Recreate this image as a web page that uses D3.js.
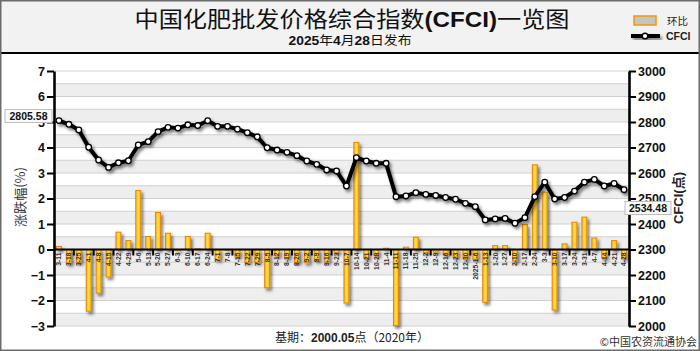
<!DOCTYPE html>
<html>
<head>
<meta charset="utf-8">
<script src="https://cdn.jsdelivr.net/npm/d3@7"></script>
<style>
  body { margin: 0; background: #fff; }
  svg { display: block; font-family: "Liberation Sans", Arial, "Noto Sans CJK SC", sans-serif; }
</style>
</head>
<body>
<svg id="chart" width="700" height="351"></svg>
<script>
const dates = ["3-11","3-18","3-25","4-1","4-8","4-15","4-22","4-29","5-6","5-13","5-20","5-27",
  "6-3","6-10","6-17","6-24","7-1","7-8","7-15","7-22","7-29","8-5","8-12","8-19","8-26",
  "9-2","9-9","9-16","9-23","10-7","10-14","10-21","10-28","11-4","11-11","11-18","11-25",
  "12-2","12-9","12-16","12-23","12-30","2025-1-6","1-13","1-20","1-27","2-10","2-17","2-24",
  "3-3","3-10","3-17","3-24","3-31","4-7","4-14","4-21","4-28"];

// 环比 (%)
const pct = [0.12,-0.55,-0.5,-2.42,-1.71,-1.08,0.68,0.35,2.31,0.51,1.45,0.64,
  -0.05,0.51,0.02,0.64,-0.4,-0.03,-0.27,-0.5,-0.5,-1.5,-0.25,-0.32,-0.5,
  -0.52,-0.43,-0.48,-0.12,-2.1,4.2,-0.35,-0.24,0.05,-2.98,0.09,0.48,
  -0.12,-0.1,-0.21,-0.3,-0.37,-0.38,-2.07,0.15,0.15,-0.45,0.98,3.32,
  2.25,-2.37,0.22,1.07,1.27,0.45,-0.33,0.35,-0.33];

// CFCI (点)
const cfci = [2805.58,2791,2769,2701,2651,2622,2640,2648,2710,2723,2762,2779,
  2776,2789,2786,2805,2783,2783,2772,2758,2742,2699,2690,2681,2668,
  2647,2634,2612,2608,2549,2660,2647,2638,2638,2507,2510,2523,
  2516,2512,2504,2497,2481,2468,2416,2420,2422,2403,2425,2507,
  2564,2498,2504,2529,2564,2575,2549,2559,2534.48];

const leftTicks = [-3,-2,-1,0,1,2,3,4,5,6,7];
const rightTicks = [2000,2100,2200,2300,2400,2500,2600,2700,2800,2900,3000];

const svg = d3.select("#chart");
const W = 700, H = 351;
const plotL = 54, plotR = 629, plotT = 71, plotB = 326;

const defs = svg.append("defs");
const shadow = defs.append("filter").attr("id", "shadow")
    .attr("x", "-20%").attr("y", "-20%").attr("width", "140%").attr("height", "140%");
shadow.append("feDropShadow").attr("dx", 2).attr("dy", 2.5)
    .attr("stdDeviation", 1.4).attr("flood-color", "#000").attr("flood-opacity", 0.5);

const barGrad = defs.append("linearGradient").attr("id", "barGrad")
    .attr("x1", "0%").attr("x2", "100%").attr("y1", "0%").attr("y2", "0%");
barGrad.append("stop").attr("offset", "0%").attr("stop-color", "#f6b41e");
barGrad.append("stop").attr("offset", "50%").attr("stop-color", "#ffe04a");
barGrad.append("stop").attr("offset", "100%").attr("stop-color", "#f2b800");

// header
svg.append("rect").attr("width", W).attr("height", 52).attr("fill", "#f2f2f2");
svg.append("line").attr("x1", 0).attr("x2", W).attr("y1", 53).attr("y2", 53)
    .attr("stroke", "#000").attr("stroke-width", 2.2);

const title = svg.append("text")
    .attr("x", 352).attr("y", 27)
    .attr("text-anchor", "middle")
    .attr("font-size", 22)
    .attr("fill", "#111")
    .attr("textLength", 435).attr("lengthAdjust", "spacingAndGlyphs");
title.append("tspan").attr("font-family", "Noto Sans CJK SC").text("中国化肥批发价格综合指数");
title.append("tspan").attr("font-weight", "bold").text("(CFCI)");
title.append("tspan").attr("font-family", "Noto Sans CJK SC").text("一览图");

const sub = svg.append("text")
    .attr("x", 350).attr("y", 45)
    .attr("text-anchor", "middle")
    .attr("font-size", 12.5)
    .attr("fill", "#111")
    .attr("textLength", 123).attr("lengthAdjust", "spacingAndGlyphs");
[["2025", true], ["年", false], ["4", true], ["月", false], ["28", true], ["日发布", false]]
  .forEach(([t, b]) => sub.append("tspan").attr("font-weight", b ? "bold" : "normal").text(t));

// legend
svg.append("rect").attr("x", 634).attr("y", 16).attr("width", 22).attr("height", 9)
    .attr("fill", "#c4c4c4").attr("stroke", "#f39c12").attr("stroke-width", 1.6);
svg.append("text").attr("x", 667).attr("y", 25).attr("font-size", 10.5)
    .attr("font-family", "Noto Sans CJK SC").attr("fill", "#222").text("环比");
const lg = svg.append("g").attr("filter", "url(#shadow)");
lg.append("line").attr("x1", 631).attr("x2", 660).attr("y1", 36).attr("y2", 36)
    .attr("stroke", "#000").attr("stroke-width", 4);
lg.append("circle").attr("cx", 645).attr("cy", 36).attr("r", 2.8)
    .attr("fill", "#fff").attr("stroke", "#000").attr("stroke-width", 1.4);
svg.append("text").attr("x", 666).attr("y", 40).attr("font-size", 10.5)
    .attr("font-weight", "bold").attr("fill", "#222").text("CFCI");

// scales
const x = d3.scaleBand().domain(dates).range([plotL, plotR]).padding(0);
const yL = d3.scaleLinear().domain([-3, 7]).range([plotB, plotT]);
const yR = d3.scaleLinear().domain([2000, 3000]).range([plotB, plotT]);

// background bands and grid
const halfSteps = d3.range(-3, 7, 0.5);
svg.append("g").selectAll("rect")
  .data(halfSteps.filter(v => Number.isInteger(v) || v === -0.5))
  .join("rect")
    .attr("x", plotL).attr("width", plotR - plotL)
    .attr("y", d => yL(d + 0.5)).attr("height", d => yL(d) - yL(d + 0.5))
    .attr("fill", "#eeeeee");
svg.append("g").selectAll("line")
  .data(d3.range(-3, 7.01, 0.5))
  .join("line")
    .attr("x1", plotL).attr("x2", plotR)
    .attr("y1", d => yL(d)).attr("y2", d => yL(d))
    .attr("stroke", "#cfcfcf").attr("stroke-width", 1.2);

// bars
const bw = 5;
svg.append("g").attr("filter", "url(#shadow)")
  .selectAll("rect")
  .data(dates.map((d, i) => ({ d, v: pct[i] })))
  .join("rect")
    .attr("x", p => x(p.d) + (x.bandwidth() - bw) / 2)
    .attr("width", bw)
    .attr("y", p => Math.min(yL(p.v), yL(0)))
    .attr("height", p => Math.max(0.8, Math.abs(yL(p.v) - yL(0))))
    .attr("fill", "url(#barGrad)")
    .attr("stroke", "#e8830c").attr("stroke-width", 1);

// zero axis with ticks
svg.append("line").attr("x1", plotL).attr("x2", plotR)
    .attr("y1", yL(0)).attr("y2", yL(0))
    .attr("stroke", "#000").attr("stroke-width", 2.2);
svg.append("g").selectAll("line")
  .data(dates.filter((d, i) => i % 2 === 0 && i > 0))
  .join("line")
    .attr("x1", d => x(d)).attr("x2", d => x(d))
    .attr("y1", yL(0)).attr("y2", yL(0) + 6)
    .attr("stroke", "#000").attr("stroke-width", 2);

// category labels
svg.append("g").selectAll("text")
  .data(dates)
  .join("text")
    .attr("transform", d => `translate(${x(d) + x.bandwidth() / 2},${yL(0) + 3}) rotate(-90)`)
    .attr("text-anchor", "end")
    .attr("dy", "0.35em")
    .attr("font-size", 6.8)
    .attr("font-weight", "bold")
    .attr("fill", "#333")
    .text(d => d);

// CFCI line
const line = d3.line()
    .x((v, i) => x(dates[i]) + x.bandwidth() / 2)
    .y(v => yR(v));
const lineGroup = svg.append("g").attr("filter", "url(#shadow)");
lineGroup.append("path")
    .datum(cfci)
    .attr("d", line)
    .attr("fill", "none")
    .attr("stroke", "#000")
    .attr("stroke-width", 4)
    .attr("stroke-linejoin", "round");
lineGroup.selectAll("circle")
  .data(cfci)
  .join("circle")
    .attr("cx", (v, i) => x(dates[i]) + x.bandwidth() / 2)
    .attr("cy", v => yR(v))
    .attr("r", 2.8)
    .attr("fill", "#fff")
    .attr("stroke", "#000")
    .attr("stroke-width", 1.3);

// axes
const axL = svg.append("g").attr("transform", `translate(${plotL},0)`)
    .call(d3.axisLeft(yL).tickValues(leftTicks).tickSize(7).tickSizeOuter(0).tickPadding(2)
      .tickFormat(d3.format("d")));
const axR = svg.append("g").attr("transform", `translate(${plotR},0)`)
    .call(d3.axisRight(yR).tickValues(rightTicks).tickSize(7).tickSizeOuter(0).tickPadding(2)
      .tickFormat(d3.format("d")));
[axL, axR].forEach(ax => {
  ax.select(".domain").attr("stroke", "#000").attr("stroke-width", 2.6);
  ax.selectAll(".tick line").attr("stroke", "#000").attr("stroke-width", 2);
  ax.selectAll(".tick text").attr("font-size", 12.5).attr("font-weight", "bold")
    .attr("fill", "#111").attr("font-family", "Liberation Sans, Arial, sans-serif");
});

// axis titles
svg.append("text")
    .attr("transform", "translate(25,197) rotate(-90)")
    .attr("text-anchor", "middle")
    .attr("font-size", 13).attr("fill", "#333")
    .attr("font-family", "Noto Sans CJK SC")
    .text("涨跌幅(%)");
svg.append("text")
    .attr("transform", "translate(683,198) rotate(-90)")
    .attr("text-anchor", "middle")
    .attr("font-size", 13).attr("font-weight", "bold").attr("fill", "#222")
    .text("CFCI(点)");

// value callouts (drawn over the axis labels, as in the original)
function callout(cx, cy, w, label) {
  svg.append("rect").attr("x", cx - w / 2).attr("y", cy - 6.5)
      .attr("width", w).attr("height", 13)
      .attr("fill", "#fafafa").attr("stroke", "#bdbdbd").attr("stroke-width", 1);
  svg.append("text").attr("x", cx).attr("y", cy + 4)
      .attr("text-anchor", "middle")
      .attr("font-size", 10.5).attr("font-weight", "bold").attr("fill", "#111")
      .text(label);
}
callout(28.5, 116, 47, d3.format(".2f")(cfci[0]));
callout(648, 208, 46, d3.format(".2f")(cfci[cfci.length - 1]));

// footer
const base = svg.append("text").attr("x", 352).attr("y", 342)
    .attr("text-anchor", "middle").attr("font-size", 12).attr("fill", "#222");
base.append("tspan").attr("font-family", "Noto Sans CJK SC").text("基期：");
base.append("tspan").attr("font-weight", "bold").text("2000.05");
base.append("tspan").attr("font-family", "Noto Sans CJK SC").text("点（2020年）");

svg.append("text").attr("x", 697).attr("y", 346)
    .attr("text-anchor", "end").attr("font-size", 11).attr("fill", "#333")
    .attr("font-family", "Noto Sans CJK SC")
    .text("©中国农资流通协会");

// frame
svg.append("rect").attr("x", 0.75).attr("y", 0.75).attr("width", W - 1.5).attr("height", H - 1.5)
    .attr("fill", "none").attr("stroke", "#6b6b6b").attr("stroke-width", 1.5);
</script>
</body>
</html>
